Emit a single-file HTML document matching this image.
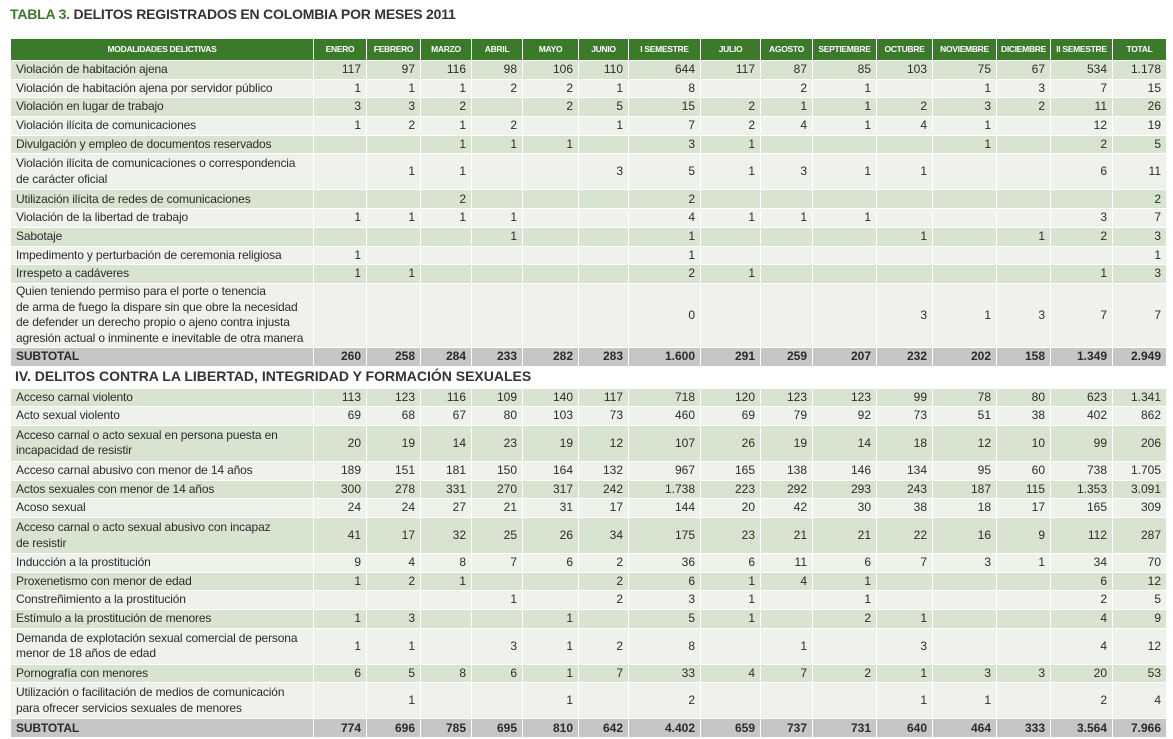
<!DOCTYPE html>
<html><head><meta charset="utf-8">
<style>
html,body{margin:0;padding:0;background:#fff;width:1173px;height:739px;overflow:hidden;font-family:"Liberation Sans",sans-serif;color:#2b2b2b}
#title{position:absolute;left:10px;top:6px;font-size:14px;font-weight:bold;color:#333;letter-spacing:-0.2px}
#title span{color:#3b7a2b}
table{position:absolute;left:10px;top:38px;border-collapse:collapse;table-layout:fixed;width:1156px}
td,th{border:1px solid #fff;padding:0 5px;font-size:12px;line-height:15.5px;overflow:hidden;white-space:nowrap}
th{background:#3b7a2b;color:#fff;font-size:8.5px;font-weight:bold;letter-spacing:-0.3px;text-align:center;height:21px;padding:0 2px}
td{text-align:right}
td.l{text-align:left;white-space:normal;letter-spacing:-0.15px}
tr.d td{background:#d9e4d0}
tr.w td{background:#eef2ea}
tr.s td{background:#c6c7c5;font-weight:bold}
tr.sec td{background:#fff;font-size:14px;font-weight:bold;text-align:left;color:#333;padding-left:4px}
</style></head><body>
<div id="title"><span>TABLA 3.</span> DELITOS REGISTRADOS EN COLOMBIA POR MESES 2011</div>
<table id="tbl">
<colgroup><col style="width:303px"><col style="width:53px"><col style="width:54px"><col style="width:51px"><col style="width:51px"><col style="width:56px"><col style="width:50px"><col style="width:72px"><col style="width:60px"><col style="width:52px"><col style="width:64px"><col style="width:56px"><col style="width:64px"><col style="width:54px"><col style="width:62px"><col style="width:54px"></colgroup>
<tbody id="body"></tbody></table>
<script>
const headers=["MODALIDADES DELICTIVAS","ENERO","FEBRERO","MARZO","ABRIL","MAYO","JUNIO","I SEMESTRE","JULIO","AGOSTO","SEPTIEMBRE","OCTUBRE","NOVIEMBRE","DICIEMBRE","II SEMESTRE","TOTAL"];
const rowsA=[
["Violación de habitación ajena",1,"117 97 116 98 106 110 644 117 87 85 103 75 67 534 1.178"],
["Violación de habitación ajena por servidor público",1,"1 1 1 2 2 1 8 _ 2 1 _ 1 3 7 15"],
["Violación en lugar de trabajo",1,"3 3 2 _ 2 5 15 2 1 1 2 3 2 11 26"],
["Violación ilícita de comunicaciones",1,"1 2 1 2 _ 1 7 2 4 1 4 1 _ 12 19"],
["Divulgación y empleo de documentos reservados",1,"_ _ 1 1 1 _ 3 1 _ _ _ 1 _ 2 5"],
["Violación ilícita de comunicaciones o correspondencia<br>de carácter oficial",2,"_ 1 1 _ _ 3 5 1 3 1 1 _ _ 6 11"],
["Utilización ilícita de redes de comunicaciones",1,"_ _ 2 _ _ _ 2 _ _ _ _ _ _ _ 2"],
["Violación de la libertad de trabajo",1,"1 1 1 1 _ _ 4 1 1 1 _ _ _ 3 7"],
["Sabotaje",1,"_ _ _ 1 _ _ 1 _ _ _ 1 _ 1 2 3"],
["Impedimento y perturbación de ceremonia religiosa",1,"1 _ _ _ _ _ 1 _ _ _ _ _ _ _ 1"],
["Irrespeto a cadáveres",1,"1 1 _ _ _ _ 2 1 _ _ _ _ _ 1 3"],
["Quien teniendo permiso para el porte o tenencia<br>de arma de fuego la dispare sin que obre la necesidad<br>de defender un derecho propio o ajeno contra injusta<br>agresión actual o inminente e inevitable de otra manera",4,"_ _ _ _ _ _ 0 _ _ _ 3 1 3 7 7"]];
const subtotalA="260 258 284 233 282 283 1.600 291 259 207 232 202 158 1.349 2.949";
const sectionB="IV. DELITOS CONTRA LA LIBERTAD, INTEGRIDAD Y FORMACIÓN SEXUALES";
const rowsB=[
["Acceso carnal violento",1,"113 123 116 109 140 117 718 120 123 123 99 78 80 623 1.341"],
["Acto sexual violento",1,"69 68 67 80 103 73 460 69 79 92 73 51 38 402 862"],
["Acceso carnal o acto sexual en persona puesta en<br>incapacidad de resistir",2,"20 19 14 23 19 12 107 26 19 14 18 12 10 99 206"],
["Acceso carnal abusivo con menor de 14 años",1,"189 151 181 150 164 132 967 165 138 146 134 95 60 738 1.705"],
["Actos sexuales con menor de 14 años",1,"300 278 331 270 317 242 1.738 223 292 293 243 187 115 1.353 3.091"],
["Acoso sexual",1,"24 24 27 21 31 17 144 20 42 30 38 18 17 165 309"],
["Acceso carnal o acto sexual abusivo con incapaz<br>de resistir",2,"41 17 32 25 26 34 175 23 21 21 22 16 9 112 287"],
["Inducción a la prostitución",1,"9 4 8 7 6 2 36 6 11 6 7 3 1 34 70"],
["Proxenetismo con menor de edad",1,"1 2 1 _ _ 2 6 1 4 1 _ _ _ 6 12"],
["Constreñimiento a la prostitución",1,"_ _ _ 1 _ 2 3 1 _ 1 _ _ _ 2 5"],
["Estímulo a la prostitución de menores",1,"1 3 _ _ 1 _ 5 1 _ 2 1 _ _ 4 9"],
["Demanda de explotación sexual comercial de persona<br>menor de 18 años de edad",2,"1 1 _ 3 1 2 8 _ 1 _ 3 _ _ 4 12"],
["Pornografía con menores",1,"6 5 8 6 1 7 33 4 7 2 1 3 3 20 53"],
["Utilización o facilitación de medios de comunicación<br>para ofrecer servicios sexuales de menores",2,"_ 1 _ _ 1 _ 2 _ _ _ 1 1 _ 2 4"]];
const subtotalB="774 696 785 695 810 642 4.402 659 737 731 640 464 333 3.564 7.966";
const H={1:18.7,2:36,4:64};
const body=document.getElementById('body');
let parity=0;
function addHeader(){
  const tr=document.createElement('tr');
  
  
  headers.forEach(h=>{const th=document.createElement('th');th.textContent=h;
    
    
    tr.appendChild(th);});
  body.appendChild(tr);
}
function addRow(label,lines,vals,cls){
  const tr=document.createElement('tr');
  tr.className=cls;
  tr.style.height=H[lines]+'px';
  
  
  const td=document.createElement('td');td.className='l';td.innerHTML=label;
  
  
  tr.appendChild(td);
  vals.split(' ').forEach(v=>{const c=document.createElement('td');c.textContent=v==='_'?'':v;
    
    
    tr.appendChild(c);});
  body.appendChild(tr);
}
addHeader();
rowsA.forEach(r=>{addRow(r[0],r[1],r[2],parity++%2?'w':'d');});
addRow('SUBTOTAL',1,subtotalA,'s');
const sec=document.createElement('tr');sec.className='sec';sec.style.height='22px';


const st=document.createElement('td');st.colSpan=16;st.textContent=sectionB;sec.appendChild(st);body.appendChild(sec);
parity=0;
rowsB.forEach(r=>{addRow(r[0],r[1],r[2],parity++%2?'w':'d');});
addRow('SUBTOTAL',1,subtotalB,'s');
</script>
</body></html>
